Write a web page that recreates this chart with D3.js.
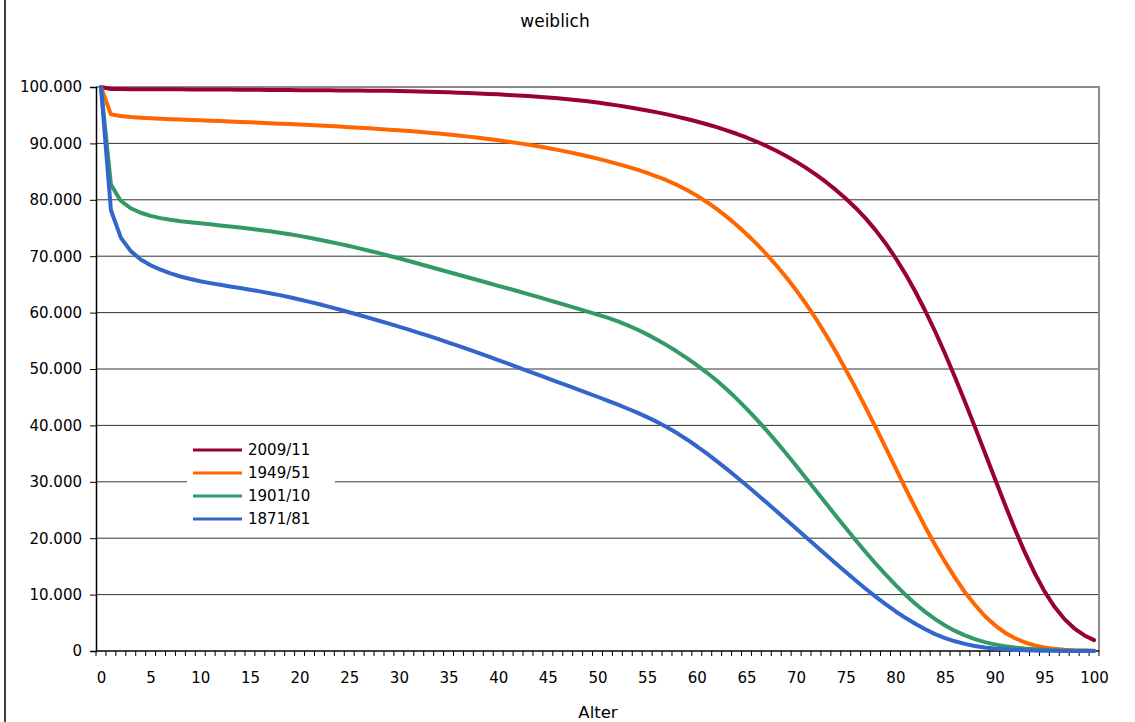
<!DOCTYPE html>
<html>
<head>
<meta charset="utf-8">
<script src="https://cdn.jsdelivr.net/npm/d3@7"></script>
<style>
  html, body { margin: 0; padding: 0; background: #fff; }
  svg { display: block; font-family: "DejaVu Sans", sans-serif; }
</style>
</head>
<body>
<svg id="chart" width="1135" height="722"></svg>
<script>
// ---- Data ----
const ages = d3.range(0, 101);
const seriesNames = ["2009/11", "1949/51", "1901/10", "1871/81"];
const seriesColors = ["#990033", "#FF6600", "#339966", "#3366CC"];
const yTickValues = [0, 10000, 20000, 30000, 40000, 50000, 60000, 70000, 80000, 90000, 100000];
const xLabelAges = [0, 5, 10, 15, 20, 25, 30, 35, 40, 45, 50, 55, 60, 65, 70, 75, 80, 85, 90, 95, 100];

const s2009 = [100000, 99650, 99630, 99620, 99610, 99600, 99595, 99590, 99580, 99570,
  99560, 99555, 99548, 99540, 99530, 99520, 99505, 99490, 99475, 99458,
  99440, 99428, 99416, 99404, 99392, 99380, 99365, 99350, 99335, 99318,
  99300, 99260, 99220, 99170, 99120, 99060, 99000, 98930, 98860, 98780,
  98700, 98600, 98500, 98390, 98270, 98150, 98000, 97840, 97660, 97460,
  97240, 97000, 96740, 96460, 96160, 95840, 95500, 95140, 94750, 94330,
  93880, 93400, 92880, 92320, 91710, 91050, 90330, 89550, 88700, 87770,
  86760, 85660, 84460, 83160, 81750, 80220, 78560, 76700, 74620, 72300,
  69720, 66870, 63740, 60330, 56650, 52710, 48550, 44210, 39740, 35190,
  30620, 26100, 21730, 17620, 13880, 10610, 7880, 5700, 4030, 2800, 1930];

const s1949 = [100000, 95150, 94860, 94680, 94560, 94460, 94380, 94300, 94230, 94160,
  94090, 94020, 93950, 93880, 93810, 93740, 93660, 93580, 93500, 93420,
  93340, 93250, 93160, 93070, 92980, 92880, 92780, 92670, 92560, 92440,
  92320, 92190, 92050, 91900, 91740, 91570, 91390, 91200, 91000, 90780,
  90550, 90300, 90050, 89780, 89490, 89180, 88850, 88500, 88120, 87720,
  87300, 86850, 86380, 85880, 85350, 84770, 84130, 83430, 82640, 81740,
  80740, 79620, 78380, 77020, 75540, 73940, 72220, 70380, 68400, 66280,
  64000, 61540, 58900, 56060, 53040, 49880, 46600, 43200, 39700, 36100,
  32500, 28900, 25400, 22000, 18800, 15800, 13000, 10400, 8200, 6200,
  4600, 3300, 2300, 1550, 1000, 620, 380, 220, 120, 70, 40];

const s1901 = [100000, 82700, 79800, 78500, 77700, 77150, 76750, 76450, 76200, 76000,
  75830, 75650, 75460, 75270, 75080, 74880, 74660, 74420, 74170, 73900,
  73600, 73270, 72925, 72565, 72190, 71800, 71395, 70975, 70540, 70090,
  69630, 69150, 68665, 68180, 67690, 67200, 66710, 66220, 65730, 65240,
  64750, 64270, 63780, 63280, 62775, 62265, 61750, 61230, 60705, 60175,
  59640, 59100, 58480, 57780, 57000, 56140, 55205, 54190, 53095, 51925,
  50675, 49375, 47955, 46415, 44755, 42985, 41115, 39155, 37115, 35005,
  32845, 30645, 28425, 26205, 23995, 21805, 19655, 17555, 15525, 13575,
  11725, 9985, 8385, 6935, 5645, 4525, 3565, 2765, 2105, 1580,
  1170, 860, 620, 440, 310, 210, 140, 90, 55, 32, 18];

const s1871 = [100000, 78200, 73300, 70900, 69400, 68400, 67600, 66950, 66400, 65950,
  65550, 65230, 64930, 64640, 64350, 64060, 63760, 63440, 63100, 62730,
  62330, 61910, 61470, 61010, 60540, 60060, 59570, 59070, 58560, 58040,
  57510, 56970, 56420, 55860, 55280, 54690, 54090, 53480, 52860, 52230,
  51590, 50940, 50290, 49640, 48990, 48340, 47690, 47040, 46390, 45740,
  45080, 44410, 43720, 43000, 42250, 41460, 40620, 39680, 38640, 37510,
  36300, 35020, 33680, 32290, 30860, 29390, 27890, 26370, 24830, 23280,
  21720, 20160, 18600, 17050, 15510, 13990, 12500, 11050, 9650, 8310,
  7050, 5880, 4820, 3850, 3000, 2300, 1720, 1260, 900, 630,
  430, 290, 190, 120, 75, 45, 27, 15, 8, 4, 2];

const seriesValues = [s2009, s1949, s1901, s1871];

// ---- Layout ----
const svg = d3.select("#chart");
const plotLeft = 96, plotRight = 1099, plotTop = 87, plotBottom = 651;

const x = d3.scalePoint().domain(ages).range([plotLeft, plotRight]).padding(0.5);
const xEdge = d3.scaleLinear().domain([-0.5, 100.5]).range([plotLeft, plotRight]);
const y = d3.scaleLinear().domain([0, 100000]).range([plotBottom, plotTop]);

// outer chart border (left edge visible)
svg.append("line").attr("x1", 5).attr("x2", 5).attr("y1", 0).attr("y2", 722)
  .attr("stroke", "#000").attr("stroke-width", 1.5);

// title
svg.append("text").attr("x", 555).attr("y", 27).attr("text-anchor", "middle")
  .attr("font-size", 17).attr("fill", "#000").text("weiblich");

// gridlines
svg.append("g").selectAll("line")
  .data(yTickValues.filter(v => v > 0 && v < 100000))
  .join("line")
  .attr("x1", plotLeft).attr("x2", plotRight)
  .attr("y1", d => y(d)).attr("y2", d => y(d))
  .attr("stroke", "#333").attr("stroke-width", 1);

// plot area top/right border (gray)
svg.append("path")
  .attr("d", `M${plotLeft},${y(100000)}H${plotRight}V${y(0)}`)
  .attr("fill", "none").attr("stroke", "#8c8c8c").attr("stroke-width", 2);

// y axis
const yAxis = d3.axisLeft(y).tickValues(yTickValues)
  .tickFormat(d => d3.format(",")(d).replace(/,/g, "."))
  .tickSize(6).tickPadding(8);
const gy = svg.append("g").attr("transform", `translate(${plotLeft},0)`).call(yAxis);
gy.select(".domain").attr("stroke", "#000").attr("stroke-width", 1.5);
gy.selectAll(".tick line").attr("stroke", "#000");
gy.selectAll(".tick text").attr("font-size", 15).attr("font-family", "DejaVu Sans, sans-serif").attr("fill", "#000");

// x axis: minor ticks at category edges
const gx = svg.append("g").attr("transform", `translate(0,${plotBottom})`);
gx.append("line").attr("x1", plotLeft).attr("x2", plotRight).attr("y1", 0).attr("y2", 0)
  .attr("stroke", "#000").attr("stroke-width", 1.5);
gx.selectAll("line.tk").data(d3.range(-0.5, 101, 1)).join("line").attr("class", "tk")
  .attr("x1", d => xEdge(d)).attr("x2", d => xEdge(d)).attr("y1", 0).attr("y2", 5)
  .attr("stroke", "#000").attr("stroke-width", 1);
const xAxis = d3.axisBottom(x).tickValues(xLabelAges).tickSize(0).tickPadding(21);
const gxl = svg.append("g").attr("transform", `translate(0,${plotBottom})`).call(xAxis);
gxl.select(".domain").remove();
gxl.selectAll(".tick text").attr("font-size", 15).attr("font-family", "DejaVu Sans, sans-serif").attr("fill", "#000");

// axis title
svg.append("text").attr("x", 598).attr("y", 718).attr("text-anchor", "middle")
  .attr("font-size", 16.5).attr("fill", "#000").text("Alter");

// series lines (oldest drawn last so it sits on top)
const line = d3.line().x((d, i) => x(ages[i])).y(d => y(d));
seriesValues.forEach((vals, i) => {
  svg.append("path").datum(vals)
    .attr("d", line)
    .attr("fill", "none")
    .attr("stroke", seriesColors[i])
    .attr("stroke-width", 4)
    .attr("stroke-linejoin", "round")
    .attr("stroke-linecap", "round");
});

// legend
const lg = svg.append("g");
lg.append("rect").attr("x", 187).attr("y", 437).attr("width", 148).attr("height", 94).attr("fill", "#fff");
seriesNames.forEach((name, i) => {
  const cy = 450 + i * 23;
  lg.append("line").attr("x1", 193).attr("x2", 242).attr("y1", cy).attr("y2", cy)
    .attr("stroke", seriesColors[i]).attr("stroke-width", 3);
  lg.append("text").attr("x", 248).attr("y", cy).attr("dy", "0.35em")
    .attr("font-size", 15).attr("fill", "#000").text(name);
});
</script>
</body>
</html>
